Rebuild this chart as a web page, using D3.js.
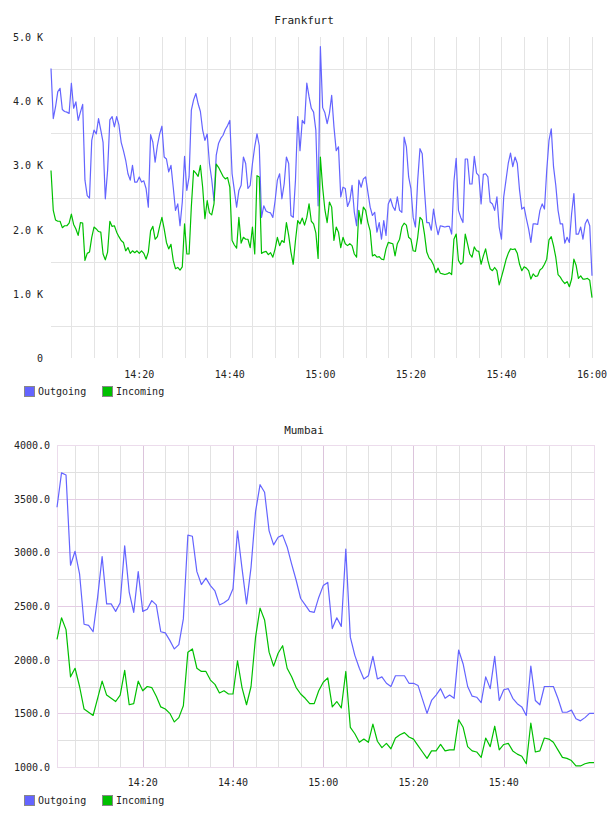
<!DOCTYPE html>
<html lang="en">
<head>
<meta charset="utf-8" />
<title>Frankfurt / Mumbai traffic</title>
<script src="https://cdn.jsdelivr.net/npm/d3@7"></script>
<style>
  body { margin: 0; background: #fff; }
  svg text { font-family: "DejaVu Sans Mono", monospace; font-size: 10px; fill: #222; }
  svg .title { font-size: 11px; }
</style>
</head>
<body>
<svg id="chart" width="608" height="816"></svg>
<script>
// Frankfurt: one sample every 30 s from 14:00:30 to 16:00 (values in K)
var fraStart = [14, 0, 30];
var fraStepSec = 30;
var fraOutgoing = [
  4.51,3.73,3.91,4.15,4.20,3.87,3.84,3.83,3.81,4.28,
  3.89,3.99,3.70,3.83,3.95,2.77,2.53,2.49,3.39,3.55,
  3.49,3.73,3.55,3.36,2.48,2.92,3.71,3.76,3.60,3.76,
  3.63,3.36,3.23,3.08,2.87,2.77,3.00,2.74,2.74,2.82,
  2.74,2.76,2.64,2.35,3.48,3.36,3.05,3.31,3.49,3.61,
  3.13,3.10,2.90,3.00,2.66,2.30,2.40,2.06,2.43,3.14,
  2.61,2.82,3.86,4.02,4.12,3.96,3.84,3.55,3.39,3.49,
  3.03,2.78,2.45,3.16,3.34,3.42,3.47,3.56,3.62,3.70,
  2.87,2.61,2.35,2.61,2.69,3.13,3.03,2.64,2.69,3.03,
  3.29,3.49,3.31,2.19,2.37,2.29,2.27,2.26,2.19,2.45,
  2.77,2.87,2.48,2.71,3.13,3.03,2.22,2.19,2.77,3.76,
  3.23,3.70,3.65,4.28,4.07,3.89,3.83,3.55,2.37,4.85,
  3.90,3.82,3.65,3.81,4.09,3.60,3.23,3.29,2.51,2.66,
  2.64,2.36,2.45,2.69,2.27,2.06,2.77,2.66,2.79,2.82,
  2.58,2.35,2.22,2.27,1.96,2.11,1.85,2.14,1.91,2.40,
  2.48,2.36,2.30,2.51,2.30,2.27,3.44,3.29,2.82,2.64,
  2.19,2.04,2.77,3.26,3.18,2.61,2.11,2.11,1.99,2.32,
  2.09,1.92,2.06,2.05,2.04,2.05,2.05,1.93,2.75,3.11,
  2.30,2.19,2.11,3.10,3.10,2.71,2.71,3.14,2.88,2.84,
  2.40,2.86,2.87,2.82,2.43,2.40,2.30,2.51,2.04,1.85,
  2.51,2.77,3.03,3.19,2.98,3.13,3.03,2.61,2.32,2.35,
  2.17,2.01,1.80,2.09,2.09,2.08,2.30,2.40,2.32,2.92,
  3.39,3.57,2.98,2.69,2.30,2.09,2.09,1.79,1.88,1.80,
  2.25,2.56,1.93,1.93,2.04,1.85,2.09,2.16,2.06,1.28
];
var fraIncoming = [
  2.92,2.30,2.15,2.13,2.13,2.03,2.06,2.06,2.10,2.24,
  2.08,2.01,1.91,2.11,2.10,1.52,1.63,1.65,1.88,2.04,
  2.01,1.97,1.96,1.62,1.53,1.65,2.13,2.05,2.06,1.96,
  1.89,1.83,1.80,1.67,1.72,1.63,1.67,1.64,1.67,1.63,
  1.67,1.63,1.54,1.65,1.98,2.05,1.85,1.89,2.05,2.19,
  2.01,1.80,1.70,1.77,1.52,1.39,1.41,1.37,1.42,2.09,
  1.62,1.62,2.36,2.92,2.88,2.83,3.00,2.66,2.17,2.45,
  2.26,2.23,2.40,3.02,2.97,2.90,2.83,2.79,2.81,2.66,
  1.83,1.76,1.71,2.19,1.79,1.88,1.85,1.85,1.72,2.04,
  1.62,2.84,2.82,1.63,1.65,1.66,1.61,1.64,1.57,1.70,
  1.88,1.75,1.83,1.80,2.11,1.91,1.65,1.46,1.83,2.14,
  2.09,2.18,2.07,2.19,2.40,2.13,2.09,1.95,1.55,3.13,
  2.66,2.31,2.11,2.43,2.35,1.83,2.04,1.96,1.72,1.88,
  1.78,1.75,1.78,1.75,1.62,1.57,2.30,2.09,2.35,2.30,
  2.11,1.98,1.59,1.61,1.57,1.58,1.54,1.53,1.70,1.80,
  1.79,1.78,1.59,1.78,1.85,2.04,2.10,2.07,1.88,1.85,
  1.67,1.66,1.88,2.19,2.15,1.93,1.65,1.56,1.52,1.45,
  1.33,1.40,1.32,1.31,1.30,1.31,1.33,1.30,1.85,1.93,
  1.52,1.46,1.49,1.93,1.78,1.62,1.57,1.73,1.67,1.66,
  1.46,1.59,1.70,1.52,1.39,1.36,1.41,1.36,1.14,1.26,
  1.39,1.53,1.63,1.70,1.69,1.70,1.63,1.46,1.36,1.42,
  1.40,1.36,1.23,1.31,1.27,1.28,1.37,1.40,1.46,1.54,
  1.84,1.89,1.75,1.57,1.30,1.26,1.20,1.16,1.19,1.11,
  1.23,1.54,1.44,1.24,1.28,1.23,1.23,1.24,1.21,0.94
];
var fraYTicks = [0, 1, 2, 3, 4, 5];

// Mumbai: one sample per minute from 14:01 to 16:00
var mumStart = [14, 1, 0];
var mumStepSec = 60;
var mumOutgoing = [
  3420,3740,3720,2880,3010,2800,2330,2320,2260,2580,
  2960,2520,2520,2450,2530,3060,2630,2440,2820,2450,
  2470,2550,2510,2260,2250,2180,2100,2140,2380,3160,
  3150,2820,2700,2760,2690,2640,2510,2530,2560,2660,
  3200,2850,2520,2860,3380,3630,3560,3200,3070,3140,
  3160,3050,2890,2740,2570,2510,2450,2440,2580,2690,
  2720,2290,2390,2310,3030,2210,2040,1920,1820,1850,
  2030,1820,1840,1780,1750,1850,1850,1850,1780,1780,
  1760,1630,1500,1620,1670,1730,1640,1670,1640,2090,
  1960,1750,1660,1650,1600,1840,1730,2030,1620,1720,
  1730,1640,1590,1560,1480,1940,1620,1580,1750,1750,
  1750,1640,1510,1510,1530,1450,1430,1460,1500,1500
];
var mumIncoming = [
  2190,2390,2280,1840,1920,1750,1540,1510,1480,1640,
  1800,1670,1640,1610,1670,1900,1580,1590,1800,1710,
  1750,1740,1660,1560,1540,1500,1420,1460,1570,2070,
  2100,1920,1890,1890,1810,1770,1690,1710,1680,1680,
  1990,1740,1580,1750,2210,2480,2370,2070,1940,2060,
  2130,1920,1840,1740,1680,1640,1590,1590,1710,1790,
  1830,1560,1610,1550,1890,1370,1310,1230,1260,1230,
  1400,1240,1180,1220,1170,1270,1300,1320,1280,1260,
  1200,1140,1080,1150,1150,1210,1150,1160,1160,1440,
  1370,1190,1150,1140,1090,1270,1190,1380,1160,1210,
  1220,1150,1120,1100,1030,1410,1140,1150,1270,1260,
  1230,1160,1090,1080,1060,1010,1010,1030,1040,1040
];
var mumYTicks = [1000, 1500, 2000, 2500, 3000, 3500, 4000];

var seriesNames = ["Outgoing", "Incoming"];
var colors = ["#6464ff", "#00c000"];

var svg = d3.select("#chart");
var fmtTime = d3.timeFormat("%H:%M");

function clock(h, m, s) { return new Date(2020, 0, 1, h, m, s); }

function stamps(start, step, n) {
  var t0 = clock(start[0], start[1], start[2]).getTime();
  return d3.range(n).map(function(i) { return new Date(t0 + i * step * 1000); });
}

function legend(g, y) {
  seriesNames.forEach(function(name, i) {
    var x = 24 + i * 78;
    g.append("rect")
      .attr("x", x + 0.5).attr("y", y + 0.5)
      .attr("width", 10).attr("height", 10)
      .attr("fill", colors[i]).attr("stroke", "#888");
    g.append("text")
      .attr("x", x + 14).attr("y", y + 9)
      .text(name);
  });
}

function drawLines(g, x, y, times, out, inc) {
  var line = d3.line()
    .x(function(d, i) { return x(times[i]); })
    .y(function(d) { return y(d); });
  [out, inc].forEach(function(vals, k) {
    g.append("path")
      .datum(vals)
      .attr("fill", "none")
      .attr("stroke", colors[k])
      .attr("stroke-width", 1.2)
      .attr("stroke-linejoin", "round")
      .attr("d", line);
  });
}

// ---------- Frankfurt ----------
(function() {
  var g = svg.append("g");
  var times = stamps(fraStart, fraStepSec, fraOutgoing.length);
  var x = d3.scaleTime()
    .domain([times[0], clock(16, 0, 0)])
    .range([51, 592]);
  var y = d3.scaleLinear().domain([0, 5]).range([358, 37]);

  g.append("text").attr("class", "title")
    .attr("x", 304).attr("y", 24)
    .attr("text-anchor", "middle")
    .text("Frankfurt");

  // grid: vertical every 5 min, horizontal at half steps
  var vt = x.ticks(d3.timeMinute.every(5)).filter(function(d) { return x(d) > 52; });
  g.append("g").selectAll("line").data(vt).join("line")
    .attr("x1", function(d) { return Math.round(x(d)) + 0.5; })
    .attr("x2", function(d) { return Math.round(x(d)) + 0.5; })
    .attr("y1", 37).attr("y2", 358)
    .attr("stroke", "#e4e4e4");
  var ht = fraYTicks.slice(0, -1).map(function(v) { return v + 0.5; });
  g.append("g").selectAll("line").data(ht).join("line")
    .attr("x1", 51).attr("x2", 593)
    .attr("y1", function(d) { return Math.round(y(d)) + 0.5; })
    .attr("y2", function(d) { return Math.round(y(d)) + 0.5; })
    .attr("stroke", "#e4e4e4");

  g.append("g").selectAll("text").data(fraYTicks).join("text")
    .attr("x", 43).attr("y", function(d) { return y(d) + 4; })
    .attr("text-anchor", "end")
    .text(function(d) { return d === 0 ? "0" : d3.format(".1f")(d) + " K"; });

  var lt = x.ticks(d3.timeMinute.every(20)).filter(function(d) { return x(d) > 60; });
  g.append("g").selectAll("text").data(lt).join("text")
    .attr("x", function(d) { return x(d); }).attr("y", 378)
    .attr("text-anchor", "middle")
    .text(fmtTime);

  drawLines(g, x, y, times, fraOutgoing, fraIncoming);
  legend(g, 386);
})();

// ---------- Mumbai ----------
(function() {
  var g = svg.append("g");
  var times = stamps(mumStart, mumStepSec, mumOutgoing.length);
  var x = d3.scaleTime()
    .domain([times[0], times[times.length - 1]])
    .range([57, 594]);
  var y = d3.scaleLinear().domain([1000, 4000]).range([767, 445]);

  g.append("text").attr("class", "title")
    .attr("x", 304).attr("y", 434)
    .attr("text-anchor", "middle")
    .text("Mumbai");

  var vt = x.ticks(d3.timeMinute.every(5)).filter(function(d) { return x(d) > 58 && x(d) < 593; });
  g.append("g").selectAll("line").data(vt).join("line")
    .attr("x1", function(d) { return Math.round(x(d)) + 0.5; })
    .attr("x2", function(d) { return Math.round(x(d)) + 0.5; })
    .attr("y1", 445).attr("y2", 767)
    .attr("stroke", function(d) { return d.getMinutes() % 20 === 0 ? "#dcc4dc" : "#e2e2e2"; });
  var ht = d3.range(1250, 4000, 250);
  g.append("g").selectAll("line").data(ht).join("line")
    .attr("x1", 57).attr("x2", 594)
    .attr("y1", function(d) { return Math.round(y(d)) + 0.5; })
    .attr("y2", function(d) { return Math.round(y(d)) + 0.5; })
    .attr("stroke", function(d) { return d % 500 === 0 ? "#e4cce4" : "#e0e0e0"; });
  g.append("rect")
    .attr("x", 57.5).attr("y", 445.5)
    .attr("width", 537).attr("height", 322)
    .attr("fill", "none").attr("stroke", "#ecdcec");

  g.append("g").selectAll("text").data(mumYTicks).join("text")
    .attr("x", 50).attr("y", function(d) { return y(d) + 4; })
    .attr("text-anchor", "end")
    .text(d3.format(".1f"));

  var lt = x.ticks(d3.timeMinute.every(20)).filter(function(d) { return x(d) > 60 && x(d) < 580; });
  g.append("g").selectAll("text").data(lt).join("text")
    .attr("x", function(d) { return x(d); }).attr("y", 786)
    .attr("text-anchor", "middle")
    .text(fmtTime);

  drawLines(g, x, y, times, mumOutgoing, mumIncoming);
  legend(g, 795);
})();
</script>
</body>
</html>
